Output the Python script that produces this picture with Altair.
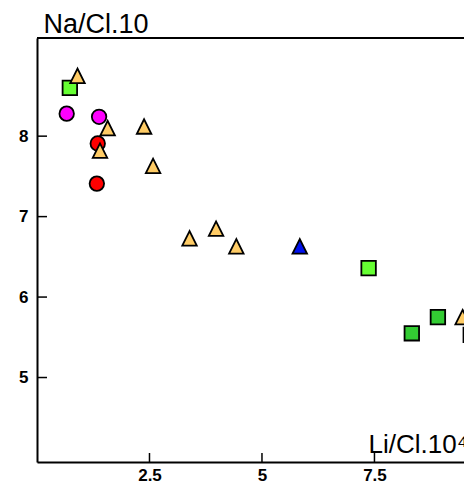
import altair as alt
import pandas as pd

# data
groups = ["lime_sq", "lime_sq", "green_sq", "green_sq", "green_sq",
          "magenta_ci", "magenta_ci", "red_ci", "red_ci",
          "orange_tri", "orange_tri", "orange_tri", "orange_tri", "orange_tri",
          "orange_tri", "orange_tri", "orange_tri", "orange_tri", "blue_tri"]
li = [0.73, 7.37, 8.33, 8.91, 9.64,
      0.66, 1.38, 1.35, 1.33,
      0.90, 1.57, 1.40, 2.38, 2.58, 3.39, 3.98, 4.43, 9.46, 5.84]
na = [8.60, 6.36, 5.55, 5.75, 5.53,
      8.28, 8.24, 7.91, 7.41,
      8.75, 8.10, 7.82, 8.12, 7.63, 6.73, 6.85, 6.63, 5.75, 6.63]

group_names = ["lime_sq", "green_sq", "magenta_ci", "red_ci", "orange_tri", "blue_tri"]
group_colors = ["#66FF33", "#33CC33", "#FF00FF", "#FF0000", "#FFCC66", "#0011EE"]
TRI = "M0,-1L-1,1L1,1Z"
group_shapes = ["square", "square", "circle", "circle", TRI, TRI]
group_sizes = [210, 210, 170, 170, 300, 300]

x_ticks = [2.5, 5, 7.5]
y_ticks = [5, 6, 7, 8]

W, H = 427, 424
FONT = "Liberation Sans"

df = pd.DataFrame({"g": groups, "li": li, "na": na, "i": range(len(li))})
xt = pd.DataFrame({"v": x_ticks})
yt = pd.DataFrame({"v": y_ticks})

xscale = alt.Scale(domain=[0, 9.49], nice=False, zero=False)
yscale = alt.Scale(domain=[3.95, 9.22], nice=False, zero=False)

xaxis = alt.Axis(values=x_ticks, ticks=False, grid=False, labelFont=FONT, labelFontSize=17,
                 labelFontWeight="bold", labelColor="black", labelPadding=5,
                 labelBaseline="top", labelExpr="toString(datum.value)",
                 domainColor="black", domainWidth=2,
                 title="Li/Cl.10⁴", titleFont=FONT, titleFontSize=26, titleFontWeight="normal",
                 titleColor="black", titleAlign="left", titleBaseline="alphabetic",
                 titleAnchor="start", titleX=331, titleY=-10, titleAngle=0)
yaxis = alt.Axis(values=y_ticks, ticks=False, grid=False, labelFont=FONT, labelFontSize=17,
                 labelFontWeight="bold", labelColor="black", labelPadding=9,
                 domainColor="black", domainWidth=2, labelExpr="toString(datum.value)",
                 title="Na/Cl.10", titleFont=FONT, titleFontSize=27, titleFontWeight="normal",
                 titleColor="black", titleAlign="left", titleBaseline="alphabetic",
                 titleAngle=0, titleX=6, titleY=-6)

points = alt.Chart(df).mark_point(filled=True, stroke="black", strokeWidth=1.8,
                                  opacity=1, clip=True).encode(
    x=alt.X("li:Q", scale=xscale, axis=xaxis),
    y=alt.Y("na:Q", scale=yscale, axis=yaxis),
    color=alt.Color("g:N", scale=alt.Scale(domain=group_names, range=group_colors), legend=None),
    shape=alt.Shape("g:N", scale=alt.Scale(domain=group_names, range=group_shapes), legend=None),
    size=alt.Size("g:N", scale=alt.Scale(domain=group_names, range=group_sizes), legend=None),
    order=alt.Order("i:Q"),
)

xtick_marks = alt.Chart(xt).mark_rule(color="black", strokeWidth=1.5).encode(
    x=alt.X("v:Q", scale=xscale, axis=xaxis),
    y=alt.value(H - 9), y2=alt.value(H),
)
ytick_marks = alt.Chart(yt).mark_rule(color="black", strokeWidth=1.5).encode(
    y=alt.Y("v:Q", scale=yscale, axis=yaxis),
    x=alt.value(0), x2=alt.value(10),
)
top_line = alt.Chart(xt).mark_rule(color="black", strokeWidth=2).encode(
    x=alt.value(0), x2=alt.value(W + 5), y=alt.value(0),
)

chart = alt.layer(points, xtick_marks, ytick_marks, top_line).properties(
    width=W, height=H,
    autosize=alt.AutoSizeParams(type="none"),
    padding={"left": 29, "top": 30, "right": 0, "bottom": 24},
).configure_view(stroke=None).configure(background="white")

chart.save("out.html", embed_options={"renderer": "svg", "actions": False})
